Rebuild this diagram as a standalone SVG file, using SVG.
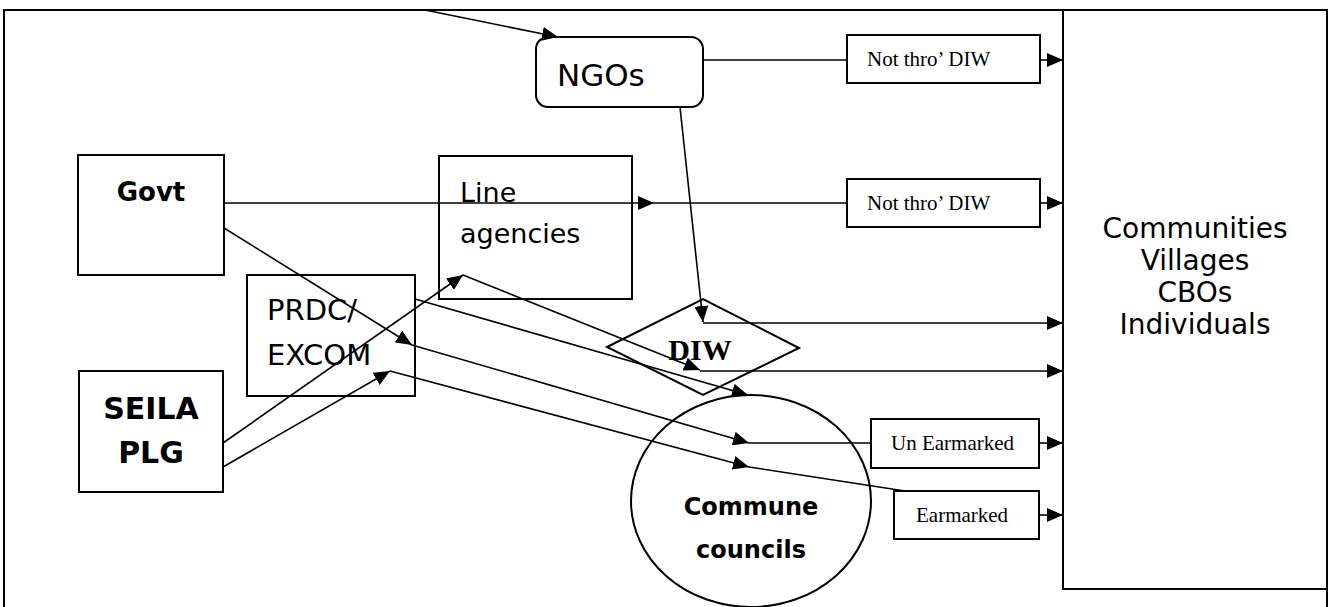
<svg xmlns="http://www.w3.org/2000/svg" width="1330" height="607" viewBox="0 0 1330 607">
  <defs>
    <marker id="arrow" markerUnits="userSpaceOnUse" markerWidth="16" markerHeight="14" refX="16" refY="7" orient="auto">
      <path d="M0,0 L16,7 L0,14 z" fill="#000"/>
    </marker>
    <style>
      .box { fill: #fff; stroke: #000; stroke-width: 2; }
      .open { fill: none; }
      .edge { fill: none; stroke: #000; stroke-width: 1.6; }
      .arr { marker-end: url(#arrow); }
      .comic { font-family: "DejaVu Sans", sans-serif; fill: #000; }
      .bold { font-weight: bold; }
      .serif { font-family: "Liberation Serif", "Times New Roman", serif; fill: #000; }
    </style>
  </defs>

  <rect x="0" y="0" width="1330" height="607" fill="#fff"/>

  <!-- outer frame -->
  <g id="frame">
    <path class="box open" d="M4,607 L4,10 L1327,10 L1327,607"/>
  </g>

  <!-- receivers -->
  <g id="communities">
    <rect class="box" x="1063" y="10" width="264" height="579"/>
    <g class="comic" font-size="28" text-anchor="middle">
      <text x="1195" y="238">Communities</text>
      <text x="1195" y="270">Villages</text>
      <text x="1195" y="302">CBOs</text>
      <text x="1195" y="334">Individuals</text>
    </g>
  </g>

  <g id="ngos">
    <rect class="box" x="536" y="37" width="167" height="70" rx="12" ry="12"/>
    <text class="comic" x="557" y="86" font-size="31">NGOs</text>
  </g>

  <g id="govt">
    <rect class="box" x="78" y="155" width="146" height="120"/>
    <text class="comic bold" x="151" y="201" font-size="26" text-anchor="middle">Govt</text>
  </g>

  <g id="line-agencies">
    <rect class="box" x="439" y="156" width="193" height="143"/>
    <text class="comic" font-size="27"><tspan x="460" y="202">Line</tspan><tspan x="460" y="243">agencies</tspan></text>
  </g>

  <g id="prdc-excom">
    <rect class="box" x="247" y="275" width="168" height="121"/>
    <text class="comic" font-size="29"><tspan x="267" y="320">PRDC/</tspan><tspan x="267" y="365">EXCOM</tspan></text>
  </g>

  <g id="seila-plg">
    <rect class="box" x="79" y="371" width="144" height="121"/>
    <text class="comic bold" font-size="30" text-anchor="middle"><tspan x="151" y="419">SEILA</tspan><tspan x="151" y="463">PLG</tspan></text>
  </g>

  <g id="diw">
    <polygon class="box open" points="607,347 703,299 799,348 703,395"/>
    <text class="serif bold" x="700" y="360" font-size="30" text-anchor="middle">DIW</text>
  </g>

  <g id="commune-councils">
    <ellipse class="box open" cx="751" cy="501" rx="120" ry="106"/>
    <text class="comic bold" font-size="24" text-anchor="middle"><tspan x="751" y="515">Commune</tspan><tspan x="751" y="558">councils</tspan></text>
  </g>

  <g id="label-ngo-not-thro-diw">
    <rect class="box" x="847" y="35" width="193" height="48"/>
    <text class="serif" x="867" y="66" font-size="21">Not thro’ DIW</text>
  </g>

  <g id="label-govt-not-thro-diw">
    <rect class="box" x="847" y="179" width="193" height="48"/>
    <text class="serif" x="867" y="210" font-size="21">Not thro’ DIW</text>
  </g>

  <g id="label-un-earmarked">
    <rect class="box" x="871" y="419" width="168" height="49"/>
    <text class="serif" x="891" y="450" font-size="21">Un Earmarked</text>
  </g>

  <g id="label-earmarked">
    <rect class="box" x="894" y="491" width="145" height="48"/>
    <text class="serif" x="916" y="522" font-size="21">Earmarked</text>
  </g>

  <!-- fund flows -->
  <g id="connectors">
    <line class="edge arr" x1="425" y1="10" x2="558" y2="37"/>
    <line class="edge" x1="703" y1="60" x2="847" y2="60"/>
    <line class="edge arr" x1="1040" y1="60" x2="1063" y2="60"/>

    <line class="edge arr" x1="224" y1="203" x2="654" y2="203"/>
    <line class="edge" x1="654" y1="203" x2="847" y2="203"/>
    <line class="edge arr" x1="1040" y1="203" x2="1063" y2="203"/>

    <line class="edge arr" x1="680" y1="107" x2="703" y2="322"/>
    <line class="edge arr" x1="703" y1="323" x2="1063" y2="323"/>

    <line class="edge arr" x1="463" y1="275" x2="700" y2="370"/>
    <line class="edge arr" x1="700" y1="371" x2="1063" y2="371"/>

    <line class="edge arr" x1="224" y1="228" x2="412" y2="345"/>
    <line class="edge arr" x1="223" y1="443" x2="463" y2="275"/>
    <line class="edge arr" x1="223" y1="467" x2="390" y2="371"/>

    <line class="edge arr" x1="415" y1="299" x2="748" y2="395"/>

    <line class="edge arr" x1="412" y1="345" x2="749" y2="443"/>
    <line class="edge" x1="749" y1="443" x2="871" y2="443"/>
    <line class="edge arr" x1="1039" y1="443" x2="1063" y2="443"/>

    <line class="edge arr" x1="390" y1="371" x2="749" y2="467"/>
    <line class="edge" x1="749" y1="467" x2="905" y2="491"/>
    <line class="edge arr" x1="1039" y1="515" x2="1063" y2="515"/>
  </g>
</svg>
